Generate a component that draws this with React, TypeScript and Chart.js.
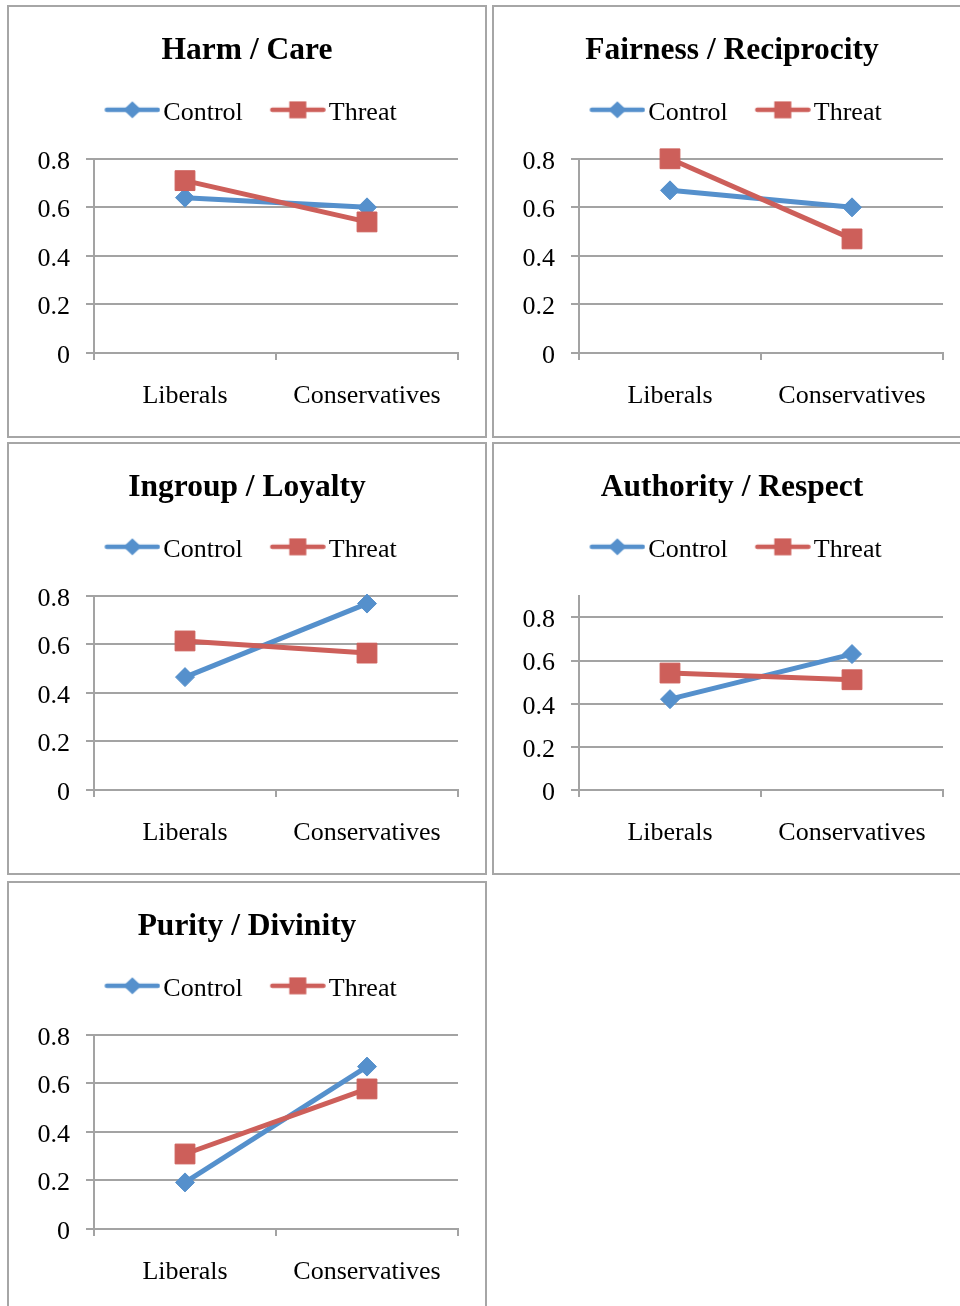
import React, { useEffect, useRef } from 'react';
import { Chart, registerables } from 'chart.js';

Chart.register(...registerables);

// ---- data ----
const CATEGORIES = ['Liberals', 'Conservatives'];
const SERIES_NAMES = ['Control', 'Threat'];
const PANEL_TITLES = [
  'Harm / Care',
  'Fairness / Reciprocity',
  'Ingroup / Loyalty',
  'Authority / Respect',
  'Purity / Divinity',
];
const HARM_CONTROL = [0.64, 0.60];
const HARM_THREAT = [0.71, 0.54];
const FAIRNESS_CONTROL = [0.67, 0.60];
const FAIRNESS_THREAT = [0.80, 0.47];
const INGROUP_CONTROL = [0.465, 0.768];
const INGROUP_THREAT = [0.614, 0.564];
const AUTHORITY_CONTROL = [0.421, 0.63];
const AUTHORITY_THREAT = [0.542, 0.511];
const PURITY_CONTROL = [0.192, 0.669];
const PURITY_THREAT = [0.309, 0.577];
const CONTROL_VALUES = [HARM_CONTROL, FAIRNESS_CONTROL, INGROUP_CONTROL, AUTHORITY_CONTROL, PURITY_CONTROL];
const THREAT_VALUES = [HARM_THREAT, FAIRNESS_THREAT, INGROUP_THREAT, AUTHORITY_THREAT, PURITY_THREAT];
const Y_MAX = [0.8, 0.8, 0.8, 0.9, 0.8];
const Y_STEP = 0.2;

// ---- styles ----
const SERIF = "'Liberation Serif', 'Times New Roman', serif";
const BLUE = '#5590CC';
const RED = '#CD5F5A';
const GRID = '#A3A3A3';
const BORDER = '#A6A6A6';
const CANVAS_W = 476;
const CANVAS_H = 429;
const PANEL_POS = [
  { left: 7, top: 5 },
  { left: 492, top: 5 },
  { left: 7, top: 442 },
  { left: 492, top: 442 },
  { left: 7, top: 881 },
];

function makeLegendImage(color: string, shape: 'diamond' | 'square') {
  const c = document.createElement('canvas');
  c.width = 73;
  c.height = 24;
  const ctx = c.getContext('2d')!;
  const cy = 9;
  ctx.strokeStyle = color;
  ctx.lineWidth = 4.5;
  ctx.lineCap = 'round';
  ctx.beginPath();
  ctx.moveTo(19.5, cy);
  ctx.lineTo(70.5, cy);
  ctx.stroke();
  ctx.fillStyle = color;
  const cx = 45;
  if (shape === 'diamond') {
    ctx.beginPath();
    ctx.moveTo(cx - 9, cy);
    ctx.lineTo(cx, cy - 8.5);
    ctx.lineTo(cx + 9, cy);
    ctx.lineTo(cx, cy + 8.5);
    ctx.closePath();
    ctx.fill();
  } else {
    ctx.fillRect(cx - 8.5, cy - 8.5, 17, 17);
  }
  return c;
}

function Panel({ index }: { index: number }) {
  const ref = useRef<HTMLCanvasElement>(null);
  useEffect(() => {
    const legendImages = [makeLegendImage(BLUE, 'diamond'), makeLegendImage(RED, 'square')];
    const chart = new Chart(ref.current!, {
      type: 'line',
      data: {
        labels: CATEGORIES,
        datasets: [
          {
            label: SERIES_NAMES[0],
            data: CONTROL_VALUES[index],
            borderColor: BLUE,
            backgroundColor: BLUE,
            borderWidth: 5,
            pointStyle: 'rectRot',
            pointRadius: 9.5,
            pointHoverRadius: 9.5,
            pointBorderWidth: 1,
            pointBackgroundColor: BLUE,
            pointBorderColor: BLUE,
            clip: false,
            order: 1,
          },
          {
            label: SERIES_NAMES[1],
            data: THREAT_VALUES[index],
            borderColor: RED,
            backgroundColor: RED,
            borderWidth: 5,
            pointStyle: 'rect',
            pointRadius: 14,
            pointHoverRadius: 14,
            pointBorderWidth: 1,
            pointBackgroundColor: RED,
            pointBorderColor: RED,
            clip: false,
            order: 0,
          },
        ],
      },
      options: {
        animation: false,
        responsive: false,
        maintainAspectRatio: false,
        layout: { padding: 0 },
        plugins: {
          title: {
            display: true,
            text: PANEL_TITLES[index],
            color: '#000',
            font: { family: SERIF, size: 31.5, weight: 'bold', lineHeight: 1.2 },
            padding: { top: 25, bottom: 10 },
          },
          subtitle: {
            display: true,
            text: '',
            weight: 500,
            font: { family: SERIF, size: 1, lineHeight: 1 },
            padding: { top: 22, bottom: 0 },
          } as any,
          legend: {
            display: true,
            position: 'top',
            labels: {
              usePointStyle: true,
              pointStyleWidth: 53,
              padding: 20,
              color: '#000',
              font: { family: SERIF, size: 26 },
              sort: (a: any, b: any) => a.datasetIndex - b.datasetIndex,
              generateLabels: (ch: any) =>
                (Chart.defaults.plugins.legend.labels as any)
                  .generateLabels(ch)
                  .map((item: any) => ({ ...item, pointStyle: legendImages[item.datasetIndex] })),
            },
          },
          tooltip: { enabled: false },
        },
        scales: {
          x: {
            type: 'category',
            offset: true,
            grid: { offset: true, drawOnChartArea: false, color: GRID, lineWidth: 2, tickLength: 7 },
            border: { color: GRID, width: 2 },
            ticks: { color: '#000', font: { family: SERIF, size: 26 }, padding: 21, maxRotation: 0 },
            afterFit: (s: any) => {
              s.height = 83;
            },
          },
          y: {
            min: 0,
            max: Y_MAX[index],
            grid: { color: GRID, lineWidth: 2, tickLength: 8 },
            border: { color: GRID, width: 2 },
            ticks: {
              stepSize: Y_STEP,
              includeBounds: false,
              color: '#000',
              font: { family: SERIF, size: 26 },
              padding: 16,
              labelOffset: 3,
              callback: (v: any) => String(Math.round(Number(v) * 10) / 10),
            },
            afterFit: (s: any) => {
              s.width = 85;
            },
          },
          y2: {
            position: 'right',
            display: true,
            grid: { display: false },
            border: { display: false },
            ticks: { display: false },
            afterFit: (s: any) => {
              s.width = 27;
            },
          },
        },
      } as any,
    });
    return () => chart.destroy();
  }, [index]);

  const pos = PANEL_POS[index];
  return (
    <div
      style={{
        position: 'absolute',
        left: pos.left,
        top: pos.top,
        width: CANVAS_W,
        height: CANVAS_H,
        border: `2px solid ${BORDER}`,
        background: '#fff',
      }}
    >
      <canvas ref={ref} width={CANVAS_W} height={CANVAS_H} style={{ display: 'block' }} />
    </div>
  );
}

export default function App() {
  return (
    <div
      style={{
        position: 'absolute',
        left: 0,
        top: 0,
        width: 960,
        height: 1306,
        overflow: 'hidden',
        background: '#fff',
      }}
    >
      {PANEL_TITLES.map((_, i) => (
        <Panel key={i} index={i} />
      ))}
    </div>
  );
}
